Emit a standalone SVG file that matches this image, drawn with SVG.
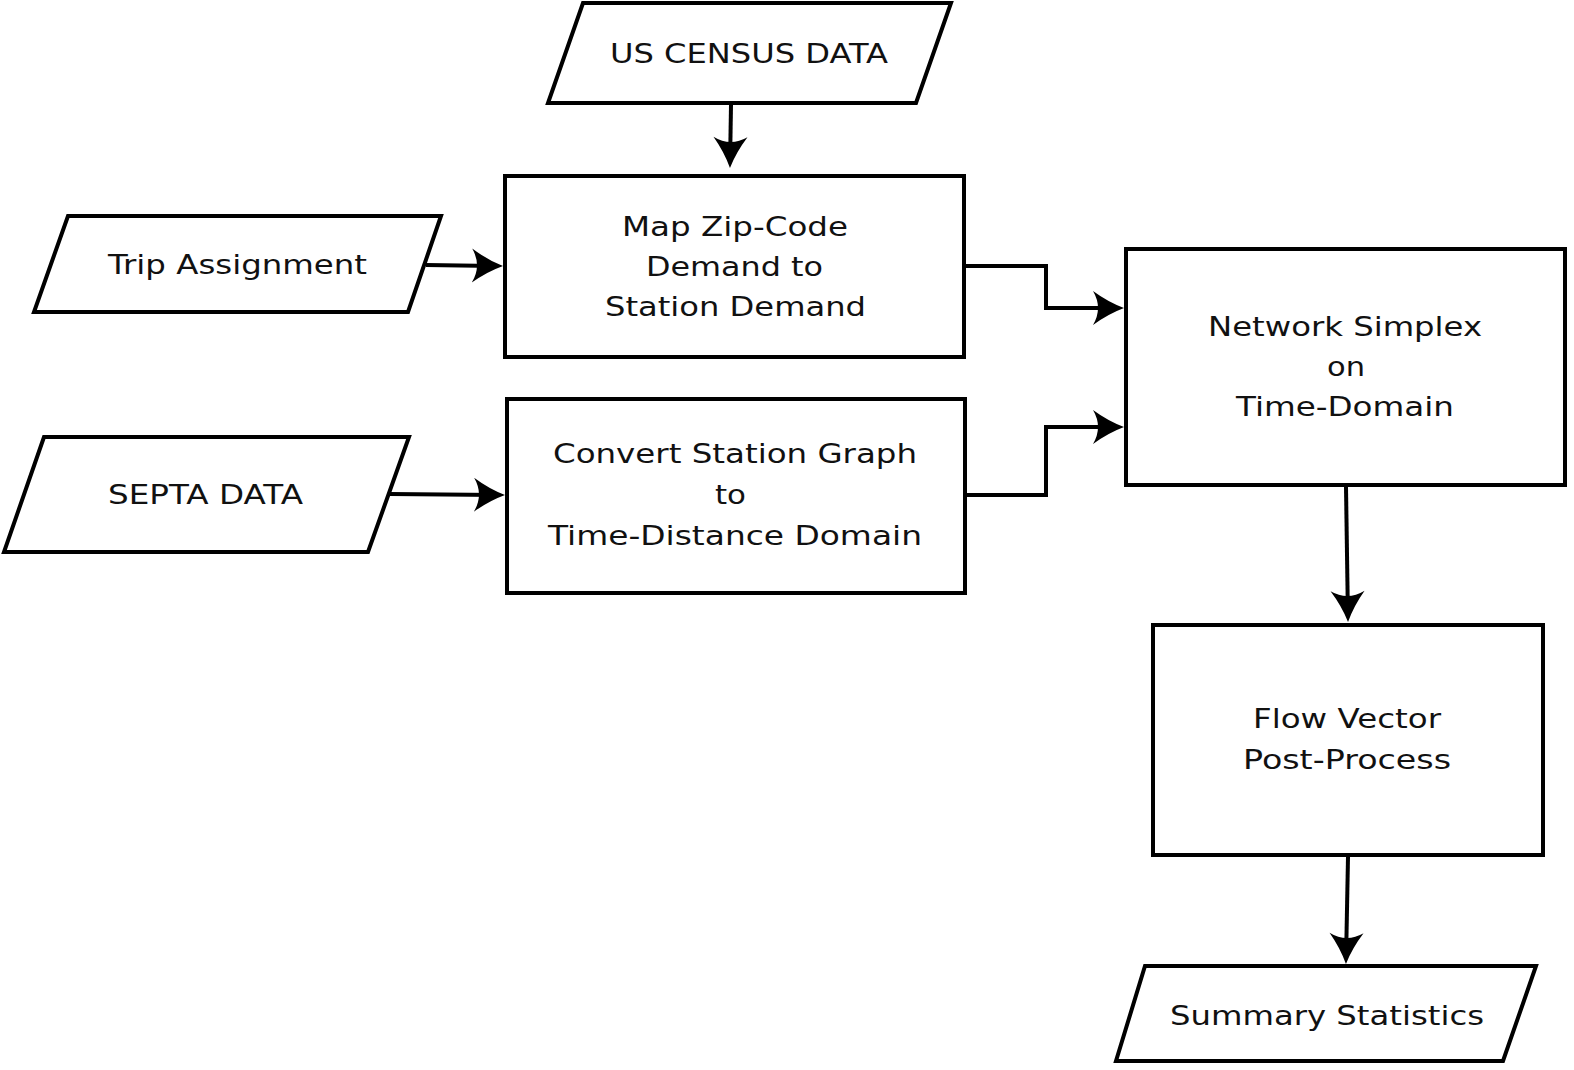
<svg xmlns="http://www.w3.org/2000/svg" width="1574" height="1070" viewBox="0 0 1574 1070">
<style>
.s{fill:#fff;stroke:#000;stroke-width:4}
.t{font-family:"DejaVu Sans",sans-serif;font-size:26px;fill:#111;text-anchor:middle}
.c{fill:none;stroke:#000;stroke-width:4}
</style>
<defs>
<marker id="ah" markerUnits="userSpaceOnUse" markerWidth="50" markerHeight="50" viewBox="-30 -20 50 40" refX="0" refY="0" orient="auto" overflow="visible">
<path d="M8,0 Q-8,-6 -23,-17 Q-13,0 -23,17 Q-8,6 8,0 Z" fill="#000"/>
</marker>
</defs>
<rect width="1574" height="1070" fill="#fff"/>
<g id="census">
<polygon class="s" points="583,3 951,3 916,103 548,103"/>
<text class="t" x="749" y="63" textLength="278" lengthAdjust="spacingAndGlyphs">US CENSUS DATA</text>
</g>
<g id="trip">
<polygon class="s" points="68,216 441,216 408,312 34,312"/>
<text class="t" x="237.5" y="274" textLength="259" lengthAdjust="spacingAndGlyphs">Trip Assignment</text>
</g>
<g id="septa">
<polygon class="s" points="44,437 409,437 368,552 4,552"/>
<text class="t" x="205.5" y="504" textLength="195" lengthAdjust="spacingAndGlyphs">SEPTA DATA</text>
</g>
<g id="map">
<rect class="s" x="505" y="176" width="459" height="181"/>
<text class="t" x="735" y="236" textLength="226" lengthAdjust="spacingAndGlyphs">Map Zip-Code</text>
<text class="t" x="734.5" y="276" textLength="177" lengthAdjust="spacingAndGlyphs">Demand to</text>
<text class="t" x="735.5" y="316" textLength="261" lengthAdjust="spacingAndGlyphs">Station Demand</text>
</g>
<g id="convert">
<rect class="s" x="507" y="399" width="458" height="194"/>
<text class="t" x="735" y="463" textLength="364" lengthAdjust="spacingAndGlyphs">Convert Station Graph</text>
<text class="t" x="730.5" y="504" textLength="31" lengthAdjust="spacingAndGlyphs">to</text>
<text class="t" x="735" y="545" textLength="374" lengthAdjust="spacingAndGlyphs">Time-Distance Domain</text>
</g>
<g id="network">
<rect class="s" x="1126" y="249" width="439" height="236"/>
<text class="t" x="1345" y="336" textLength="274" lengthAdjust="spacingAndGlyphs">Network Simplex</text>
<text class="t" x="1346" y="376" textLength="38" lengthAdjust="spacingAndGlyphs">on</text>
<text class="t" x="1345" y="416" textLength="218" lengthAdjust="spacingAndGlyphs">Time-Domain</text>
</g>
<g id="flow">
<rect class="s" x="1153" y="625" width="390" height="230"/>
<text class="t" x="1347" y="728" textLength="188" lengthAdjust="spacingAndGlyphs">Flow Vector</text>
<text class="t" x="1347" y="769" textLength="208" lengthAdjust="spacingAndGlyphs">Post-Process</text>
</g>
<g id="summary">
<polygon class="s" points="1145,966 1536,966 1503,1061 1116,1061"/>
<text class="t" x="1327" y="1025" textLength="314" lengthAdjust="spacingAndGlyphs">Summary Statistics</text>
</g>
<g id="connectors">
<path class="c" d="M731,105 L730.1,160" marker-end="url(#ah)"/>
<path class="c" d="M426,265 L495,265.9" marker-end="url(#ah)"/>
<path class="c" d="M390,494 L497,494.9" marker-end="url(#ah)"/>
<path class="c" d="M966,266 H1046 V308 H1116" marker-end="url(#ah)"/>
<path class="c" d="M966,495 H1046 V427 H1116" marker-end="url(#ah)"/>
<path class="c" d="M1346,487 L1347.9,614" marker-end="url(#ah)"/>
<path class="c" d="M1348,857 L1346.1,956" marker-end="url(#ah)"/>
</g>
</svg>
